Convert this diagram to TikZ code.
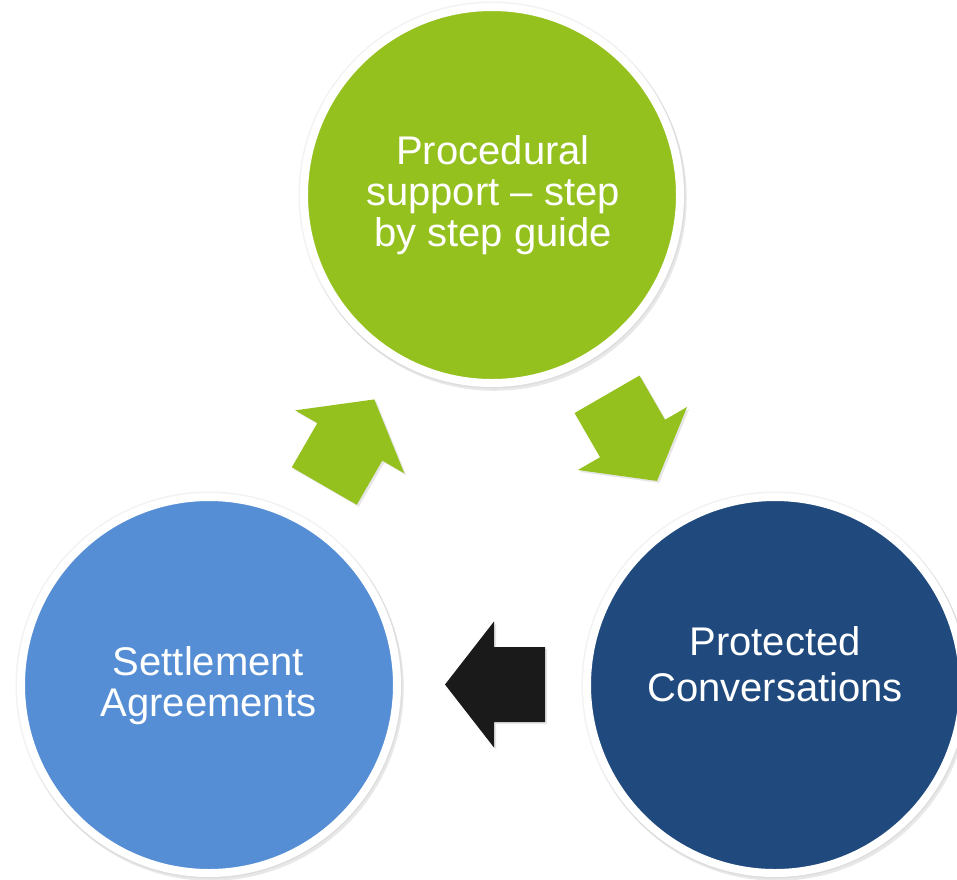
\documentclass[tikz,border=0pt]{standalone}
\usepackage{fontspec}
\setmainfont{Liberation Sans}
\usetikzlibrary{shadows}
\definecolor{cgreen}{RGB}{149,193,31}
\definecolor{clblue}{RGB}{85,142,213}
\definecolor{cdblue}{RGB}{32,74,126}
\definecolor{cblack}{RGB}{26,26,26}
\begin{document}
\begin{tikzpicture}[x=1pt,y=-1pt,
  ring/.style={circle, inner sep=0pt, minimum size=376pt, draw=white, line width=8pt,
    drop shadow={shadow xshift=2pt, shadow yshift=-3pt, shadow scale=1.025, opacity=0.18}},
  halo/.style={circle, inner sep=0pt, minimum size=387pt, fill=black, opacity=0.05},
  lbl/.style={text=white, align=center, inner sep=0pt, anchor=base,
    font=\fontsize{40}{41}\selectfont},
  arrshadow/.style={drop shadow={shadow xshift=2pt, shadow yshift=-2pt, opacity=0.2}},
  blockarr/.pic={\path[fill=#1, arrshadow] (0,-37.5) -- (51,-37.5) -- (51,-63) -- (100,0)
    -- (51,63) -- (51,37.5) -- (0,37.5) -- cycle;}
]
\path[use as bounding box] (0,0) rectangle (957,879);
\clip (0,0) rectangle (957,879);
% halos
\node[halo] (toph) at (492,195) {};
\node[halo] (lefth) at (209,685) {};
\node[halo] (righth) at (775,685) {};
% circles
\node[ring, fill=cgreen] (top) at (492,195) {};
\node[ring, fill=clblue] (left) at (209,685) {};
\node[ring, fill=cdblue] (right) at (775,685) {};
% labels (anchor = baseline of the last line)
\node[lbl] (toptxt) at (493,246.7) {Procedural\\support -- step\\by step guide};
\node[lbl] (lefttxt) at (208.5,716) {Settlement\\Agreements};
\node[lbl, font=\fontsize{40}{46}\selectfont] (righttxt) at (775,701.7) {Protected\\Conversations};
% block arrows
\pic[rotate=60] (a1) at (324.3,486) {blockarr=cgreen};
\pic[rotate=-60] (a2) at (607,394.3) {blockarr=cgreen};
\pic[rotate=180] (a3) at (545,684.5) {blockarr=cblack};
\end{tikzpicture}
\end{document}
